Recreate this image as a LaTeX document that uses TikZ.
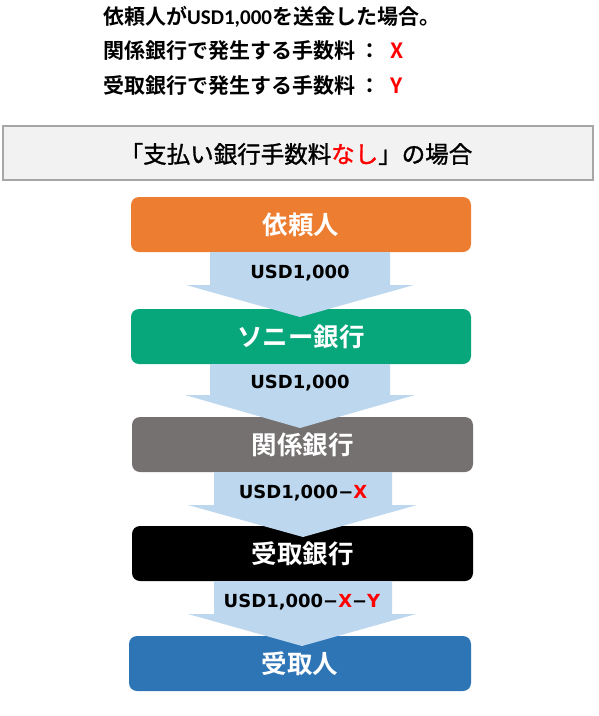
\documentclass[tikz,border=0pt]{standalone}
\usepackage{fontspec}
\newfontfamily\jp{Noto Sans CJK JP}[BoldFont={Noto Sans CJK JP}, BoldFeatures={FakeBold=1.3}]
\newfontfamily\jpb{Noto Sans CJK JP Bold}
\newfontfamily\dvb{DejaVu Sans Bold}
\newfontfamily\calb{Carlito Bold}
\definecolor{cOrange}{HTML}{ED7D31}
\definecolor{cGreen}{HTML}{08A67B}
\definecolor{cGray}{HTML}{767171}
\definecolor{cBlue}{HTML}{2E75B6}
\definecolor{cArrow}{HTML}{BDD7EE}
\definecolor{cHead}{HTML}{F2F2F2}
\definecolor{cHeadLine}{HTML}{A6A6A6}
\definecolor{cRed}{HTML}{FF0000}
\tikzset{
  stagebox/.style={rounded corners=8pt, inner sep=0pt, text=white,
    font=\jpb\fontsize{25.5}{30}\selectfont},
  toptext/.style={anchor=west, inner sep=0pt, font=\jpb\fontsize{21}{25}\selectfont},
  amtlabel/.style={inner sep=0pt, font=\dvb\fontsize{18}{22}\selectfont},
  blockarrow/.style={fill=cArrow, draw=none},
}
\begin{document}
\begin{tikzpicture}[x=1pt,y=-1pt]
\useasboundingbox (0,0) rectangle (599,716);
% top text
\node[toptext] (l1) at (103,17) {依頼人が{\calb USD1,000}を送金した場合。};
\node[toptext] (l2) at (103,51) {関係銀行で発生する手数料\hspace{4pt}：\hspace{10pt}\textcolor{cRed}{X}};
\node[toptext] (l3) at (103,86) {受取銀行で発生する手数料\hspace{4pt}：\hspace{10pt}\textcolor{cRed}{Y}};
% header box
\node[draw=cHeadLine, fill=cHead, line width=1.2pt, minimum width=590pt, minimum height=54pt, inner sep=0pt] (hdr) at (298,153) {};
\node[inner sep=0pt, font=\jp\bfseries\fontsize{23.5}{28}\selectfont] (hdrtext) at (296,154) {「支払い銀行手数料\textcolor{cRed}{なし}」の場合};
% stage boxes
\node[stagebox, fill=cOrange, minimum width=340pt, minimum height=55pt] (s1) at (301,224.5) {依頼人};
\node[stagebox, fill=cGreen, minimum width=340pt, minimum height=55pt] (s2) at (301,336.5) {ソニー銀行};
\node[stagebox, fill=cGray, minimum width=341pt, minimum height=55pt] (s3) at (302.5,444.5) {関係銀行};
\node[stagebox, fill=black, minimum width=341pt, minimum height=55pt] (s4) at (302.5,553.5) {受取銀行};
\node[stagebox, fill=cBlue, minimum width=342pt, minimum height=55pt] (s5) at (300,663.5) {受取人};
% block arrows
\fill[blockarrow] (210,252) -- (390,252) -- (390,285) -- (414,285) -- (300,317) -- (186,285) -- (210,285) -- cycle;
\fill[blockarrow] (210,364) -- (390,364) -- (390,395) -- (415,395) -- (300,428) -- (185,395) -- (210,395) -- cycle;
\fill[blockarrow] (214,472) -- (392,472) -- (392,505) -- (417,505) -- (303,537) -- (188,505) -- (214,505) -- cycle;
\fill[blockarrow] (214,581) -- (392,581) -- (392,614) -- (416,614) -- (302,646) -- (188,614) -- (214,614) -- cycle;
% amount labels
\node[amtlabel] (a1) at (300,273) {USD1,000};
\node[amtlabel] (a2) at (300,383) {USD1,000};
\node[amtlabel] (a3) at (303,493) {USD1,000−\textcolor{cRed}{X}};
\node[amtlabel] (a4) at (302,602) {USD1,000−\textcolor{cRed}{X}−\textcolor{cRed}{Y}};
\end{tikzpicture}
\end{document}
